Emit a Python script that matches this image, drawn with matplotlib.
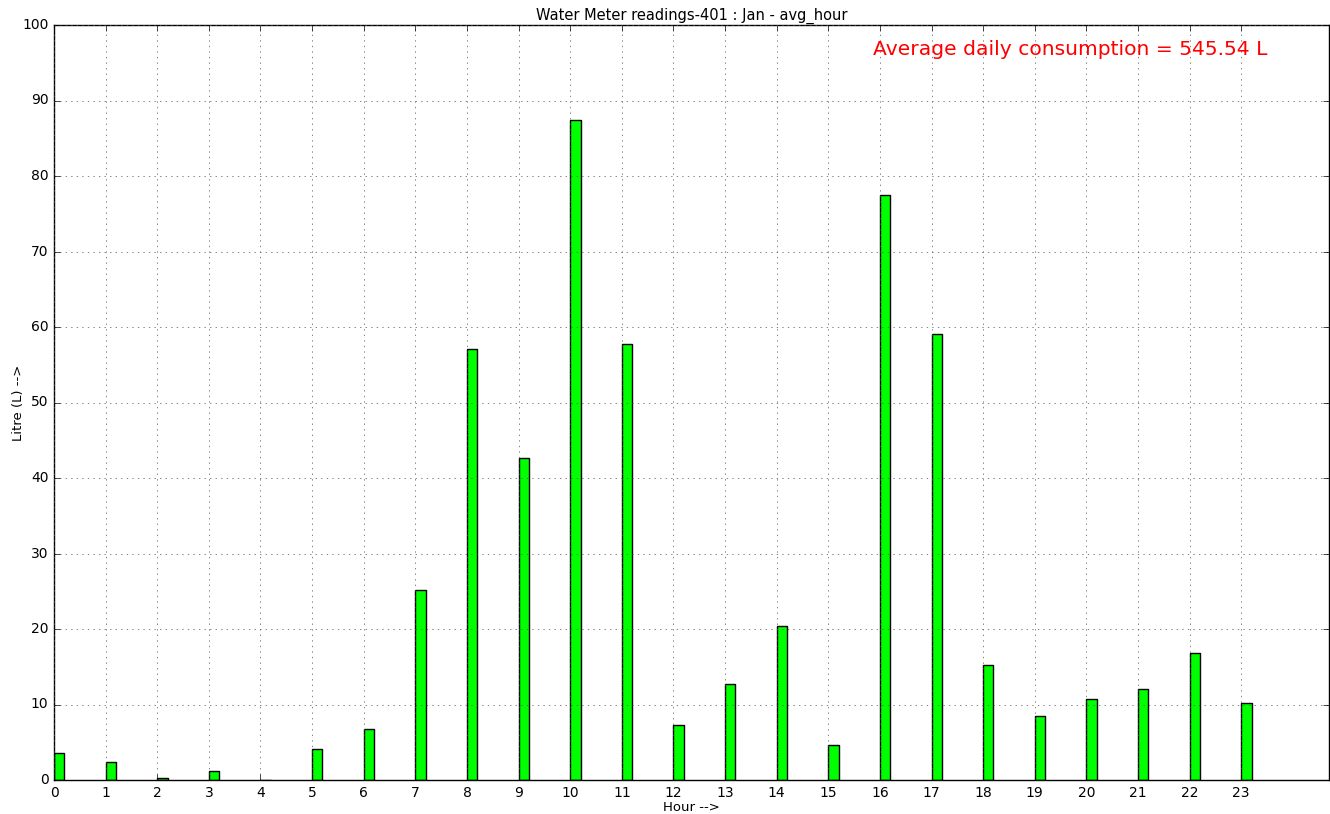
import numpy as np
import matplotlib
matplotlib.use("Agg")
import matplotlib.pyplot as plt

plt.style.use('classic')

hours = list(range(24))
litres = [3.6, 2.4, 0.3, 1.2, 0.05, 4.1, 6.8, 25.2, 57.1, 42.6, 87.4, 57.7,
          7.3, 12.7, 20.4, 4.7, 77.5, 59.1, 15.2, 8.5, 10.7, 12.0, 16.8, 10.2]
avg_text = "Average daily consumption = 545.54 L"

fig = plt.figure(figsize=(13.3, 8.14), dpi=100)
ax = fig.add_axes([54 / 1330, 34 / 814, 1275 / 1330, 755 / 814])

ax.bar(hours, litres, width=0.2, align='edge', color='#00ff00', edgecolor='black', linewidth=1)

ax.set_xlim(0, 24.7)
ax.set_ylim(0, 100)
ax.set_xticks(hours)
ax.set_yticks(np.arange(0, 101, 10))
ax.tick_params(labelsize=10)
ax.grid(True, color='#555555', linestyle=':')

ax.set_xlabel('Hour -->', fontsize=9.5, labelpad=1)
ax.set_ylabel('Litre (L) -->', fontsize=9.5, labelpad=-2)
ax.set_title('Water Meter readings-401 : Jan - avg_hour', fontsize=10.5, pad=4)
ax.text(0.642, 0.967, avg_text, transform=ax.transAxes, color='red', fontsize=14.6, va='center')

fig.savefig("out.png", dpi=100)
